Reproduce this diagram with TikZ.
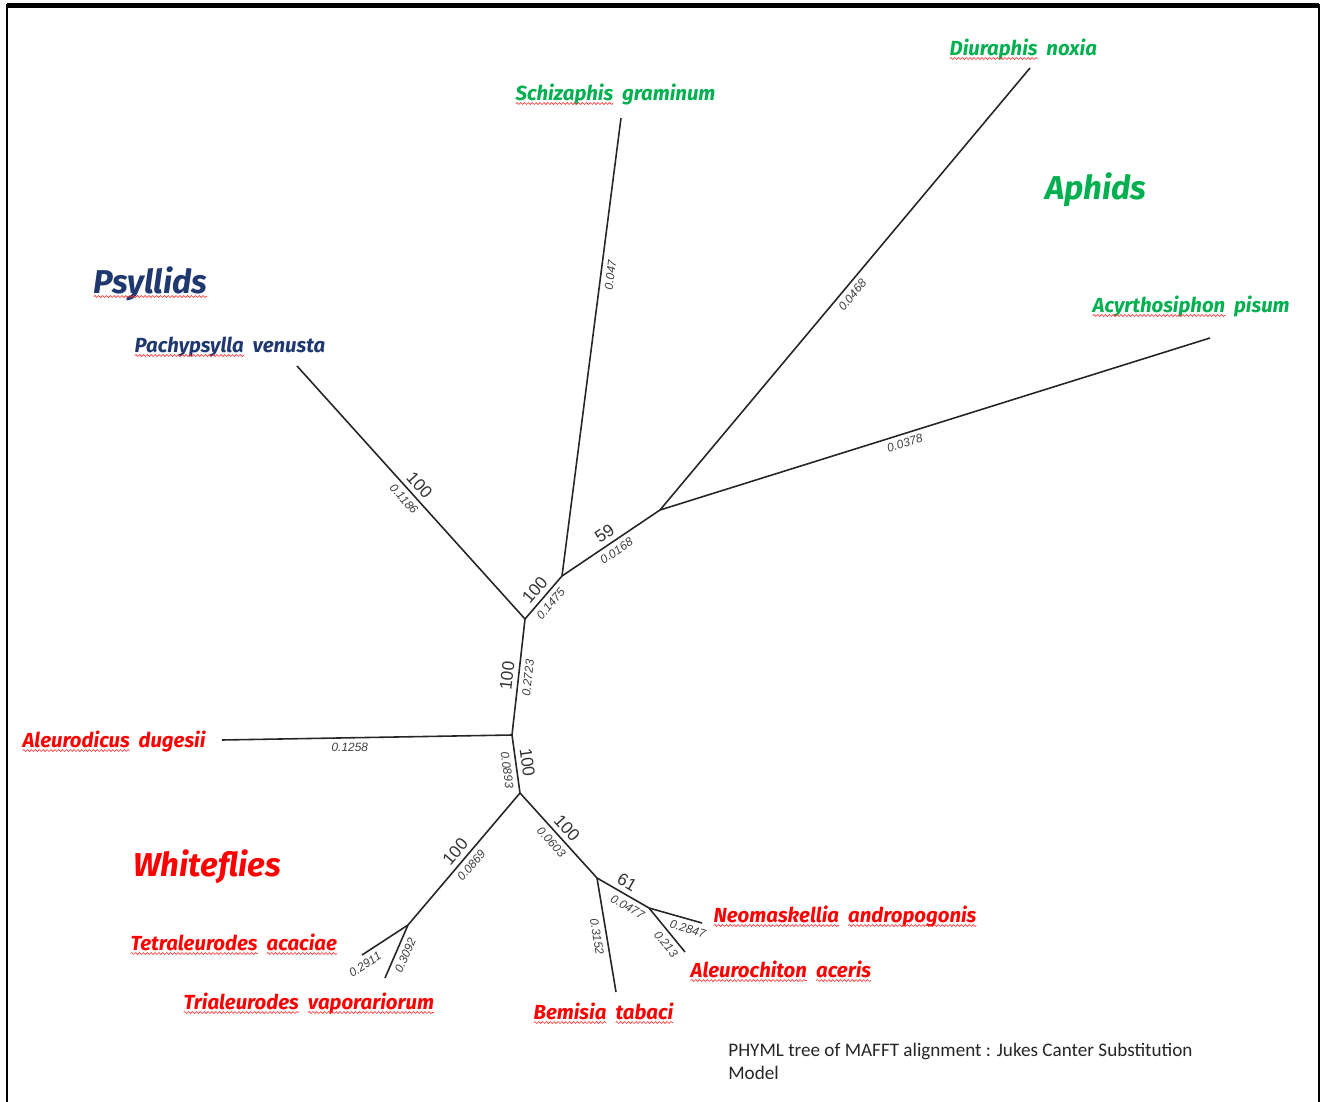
\documentclass[tikz,border=0pt]{standalone}
\usepackage{fontspec}
\setmainfont{Fira Sans}
\newfontfamily\lblfont{Fira Sans}
\newfontfamily\numfont{Liberation Sans}
\newfontfamily\capfont{Carlito}
\usetikzlibrary{decorations.pathmorphing}
\newcommand\sqw[1]{\tikz[baseline=(sqword.base)]{\node[inner sep=0pt,outer sep=0pt,text=.] (sqword) {#1};
  \draw[wfly!80, line width=0.35pt, decorate, decoration={snake, amplitude=0.55pt, segment length=2.2pt}]
   ([yshift=-2pt]sqword.base west) -- ([yshift=-2pt]sqword.base east);}}
\newcommand\wsp{\hspace{0.42em}}
\definecolor{aphid}{RGB}{0,176,80}
\definecolor{psyl}{RGB}{31,56,112}
\definecolor{wfly}{RGB}{255,0,0}
\begin{document}
\begin{tikzpicture}[x=0.02cm,y=-0.02cm,
  branch/.style={draw=black!85, line width=0.9pt},
  bl/.style={font=\numfont\itshape\fontsize{6.8}{7.5}\selectfont, text=black!75, sloped, inner sep=2.6pt},
  bs/.style={font=\numfont\fontsize{9.8}{11}\selectfont, text=black!80, sloped, inner sep=2.6pt},
  taxon/.style={font=\lblfont\bfseries\itshape\fontsize{11.6}{13}\selectfont, anchor=base west, inner sep=0pt},
  group/.style={font=\lblfont\bfseries\itshape\fontsize{18.8}{21}\selectfont, anchor=base west, inner sep=0pt},
  captxt/.style={font=\capfont\fontsize{10.9}{12}\selectfont, text=black!85, anchor=base west, inner sep=0pt}]
\useasboundingbox (0,0) rectangle (1323,1102);
\fill[white] (0,0) rectangle (1323,1102);
\draw[line width=1.6pt] (7,1102) -- (7,5) -- (1319,5) -- (1319,1102);
\draw[line width=2.4pt] (7,5.5) -- (1319,5.5);
% internal nodes
\coordinate (A) at (525,619);
\coordinate (B) at (562,576);
\coordinate (C) at (660,510);
\coordinate (D) at (512,735);
\coordinate (E) at (520,793);
\coordinate (F) at (408,925);
\coordinate (G) at (597,878);
\coordinate (H) at (649,908);
% tips
\coordinate (tDiu) at (1030,68);
\coordinate (tAcy) at (1210,338);
\coordinate (tSch) at (621,118);
\coordinate (tPac) at (297,366);
\coordinate (tAld) at (222,740);
\coordinate (tTet) at (362,955);
\coordinate (tTri) at (385,978);
\coordinate (tBem) at (616,992);
\coordinate (tNeo) at (702,923);
\coordinate (tAch) at (685,952);
% branches
\draw[branch] (tPac) -- (A) node[bs,midway,above]{100} node[bl,midway,below]{0.1186};
\draw[branch] (A) -- (B) node[bs,midway,above]{100} node[bl,midway,below]{0.1475};
\draw[branch] (B) -- (C) node[bs,midway,above]{59} node[bl,midway,below]{0.0168};
\draw[branch] (C) -- (tAcy) node[bl,pos=0.44,below]{0.0378};
\draw[branch] (C) -- (tDiu) node[bl,midway,below]{0.0468};
\draw[branch] (B) -- (tSch) node[bl,pos=0.66,below]{0.047};
\draw[branch] (D) -- (A) node[bs,midway,above]{100} node[bl,midway,below]{0.2723};
\draw[branch] (tAld) -- (D) node[bl,pos=0.44,below]{0.1258};
\draw[branch] (D) -- (E) node[bs,midway,above]{100} node[bl,pos=0.58,below]{0.0893};
\draw[branch] (F) -- (E) node[bs,midway,above]{100} node[bl,midway,below]{0.0869};
\draw[branch] (E) -- (G) node[bs,midway,above]{100} node[bl,midway,below]{0.0603};
\draw[branch] (G) -- (H) node[bs,pos=0.47,above]{61} node[bl,pos=0.68,below]{0.0477};
\draw[branch] (H) -- (tNeo) node[bl,pos=0.78,below]{0.2847};
\draw[branch] (H) -- (tAch) node[bl,pos=0.68,below]{0.213};
\draw[branch] (G) -- (tBem) node[bl,midway,below]{0.3152};
\draw[branch] (tTet) -- (F) node[bl,pos=-0.05,below]{0.2911};
\draw[branch] (tTri) -- (F) node[bl,midway,below]{0.3092};
% taxa
\node[taxon,text=aphid] (nDiu) at (949,55) {\sqw{Diuraphis}\wsp noxia};
\node[taxon,text=aphid] (nSch) at (515,100) {\sqw{Schizaphis}\wsp graminum};
\node[taxon,text=aphid] (nAcy) at (1092,312) {\sqw{Acyrthosiphon}\wsp pisum};
\node[group,text=aphid] (gAph) at (1045,199) {Aphids};
\node[group,text=psyl] (gPsy) at (93,293) {\sqw{Psyllids}};
\node[taxon,text=psyl] (nPac) at (134,352) {\sqw{Pachypsylla}\wsp venusta};
\node[taxon,text=wfly] (nAld) at (22,747) {\sqw{Aleurodicus}\wsp dugesii};
\node[group,text=wfly] (gWhi) at (133,876) {Whiteflies};
\node[taxon,text=wfly] (nTet) at (130,950) {\sqw{Tetraleurodes}\wsp\sqw{acaciae}};
\node[taxon,text=wfly] (nTri) at (183,1009) {\sqw{Trialeurodes}\wsp\sqw{vaporariorum}};
\node[taxon,text=wfly] (nBem) at (533,1019) {\sqw{Bemisia}\wsp\sqw{tabaci}};
\node[taxon,text=wfly] (nNeo) at (713,922) {\sqw{Neomaskellia}\wsp\sqw{andropogonis}};
\node[taxon,text=wfly] (nAch) at (690,977) {\sqw{Aleurochiton}\wsp\sqw{aceris}};
% caption
\node[captxt] (cap1) at (728,1056) {PHYML tree of MAFFT alignment : Jukes Canter Substitution};
\node[captxt] (cap2) at (728,1079) {Model};
\end{tikzpicture}
\end{document}
